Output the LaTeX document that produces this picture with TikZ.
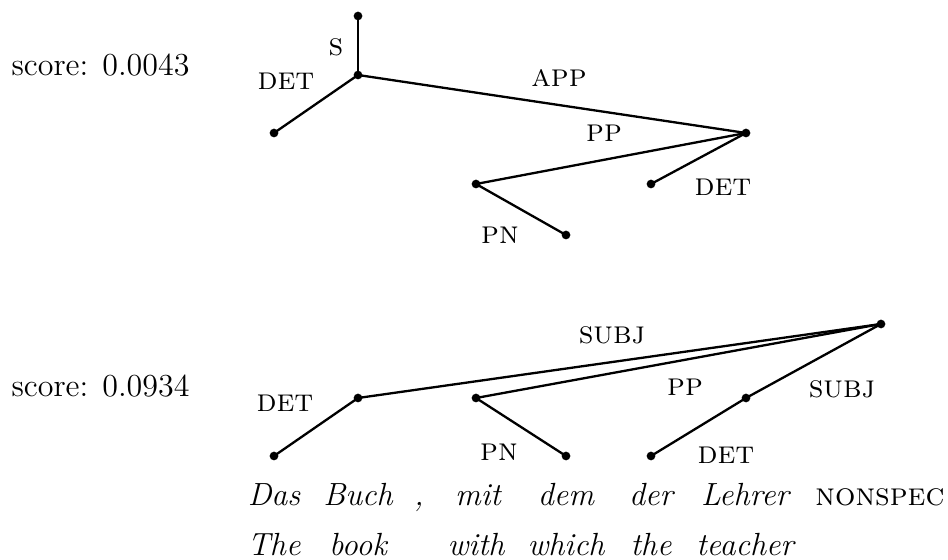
\documentclass[tikz,border=0pt]{standalone}
\newcommand\twelve{\fontsize{12.5}{15}\selectfont}
\tikzset{
  dot/.style={circle,fill=black,inner sep=0pt,minimum size=3.4pt},
  arc/.style={line width=0.9pt},
  lab/.style={font=\twelve\scshape,inner sep=0pt},
  word/.style={font=\twelve\itshape,anchor=base,inner sep=0pt},
  tag/.style={font=\twelve\scshape,anchor=base,inner sep=0pt},
  score/.style={font=\twelve,anchor=base west,inner sep=0pt}
}
\begin{document}
\begin{tikzpicture}[x=0.39pt,y=-0.39pt]
\useasboundingbox (0,0) rectangle (948,560);

% first analysis
\node[score] (s1) at (11,76) {score: 0.0043};
\node[dot] (t0) at (358,16) {};
\node[dot] (t1) at (358,75) {};
\node[dot] (t2) at (274,133) {};
\node[dot] (t3) at (746,133) {};
\node[dot] (t4) at (476,184) {};
\node[dot] (t5) at (651,184) {};
\node[dot] (t6) at (566,235) {};
\draw[arc] (t1.center) -- (t0.center);
\draw[arc] (t1.center) -- (t2.center);
\draw[arc] (t1.center) -- (t3.center);
\draw[arc] (t3.center) -- (t4.center);
\draw[arc] (t3.center) -- (t5.center);
\draw[arc] (t4.center) -- (t6.center);
\node[lab] (l1) at (336,47) {s};
\node[lab] (l2) at (286,81) {det};
\node[lab] (l3) at (559,78) {app};
\node[lab] (l4) at (604,133) {pp};
\node[lab] (l5) at (723,187) {det};
\node[lab] (l6) at (500,235) {pn};

% second analysis
\node[score] (s2) at (11,397) {score: 0.0934};
\node[dot] (b0) at (881,324) {};
\node[dot] (b1) at (358,398) {};
\node[dot] (b2) at (476,398) {};
\node[dot] (b3) at (746,398) {};
\node[dot] (b4) at (274,456) {};
\node[dot] (b5) at (566,456) {};
\node[dot] (b6) at (651,456) {};
\draw[arc] (b0.center) -- (b1.center);
\draw[arc] (b0.center) -- (b2.center);
\draw[arc] (b0.center) -- (b3.center);
\draw[arc] (b1.center) -- (b4.center);
\draw[arc] (b2.center) -- (b5.center);
\draw[arc] (b3.center) -- (b6.center);
\node[lab] (m1) at (612,335) {subj};
\node[lab] (m2) at (285,403) {det};
\node[lab] (m3) at (685,387) {pp};
\node[lab] (m4) at (842,389) {subj};
\node[lab] (m5) at (499,452) {pn};
\node[lab] (m6) at (726,455) {det};

% sentence and gloss
\node[word] (w1) at (274,506) {Das};
\node[word] (w2) at (358,506) {Buch};
\node[word] (w3) at (419,506) {,};
\node[word] (w4) at (478,506) {mit};
\node[word] (w5) at (566,506) {dem};
\node[word] (w6) at (651,506) {der};
\node[word] (w7) at (745,506) {Lehrer};
\node[tag]  (w8) at (880,506) {nonspec};
\node[word] (g1) at (274,556) {The};
\node[word] (g2) at (358,556) {book};
\node[word] (g4) at (476,556) {with};
\node[word] (g5) at (566,556) {which};
\node[word] (g6) at (651,556) {the};
\node[word] (g7) at (745,556) {teacher};
\end{tikzpicture}
\end{document}
